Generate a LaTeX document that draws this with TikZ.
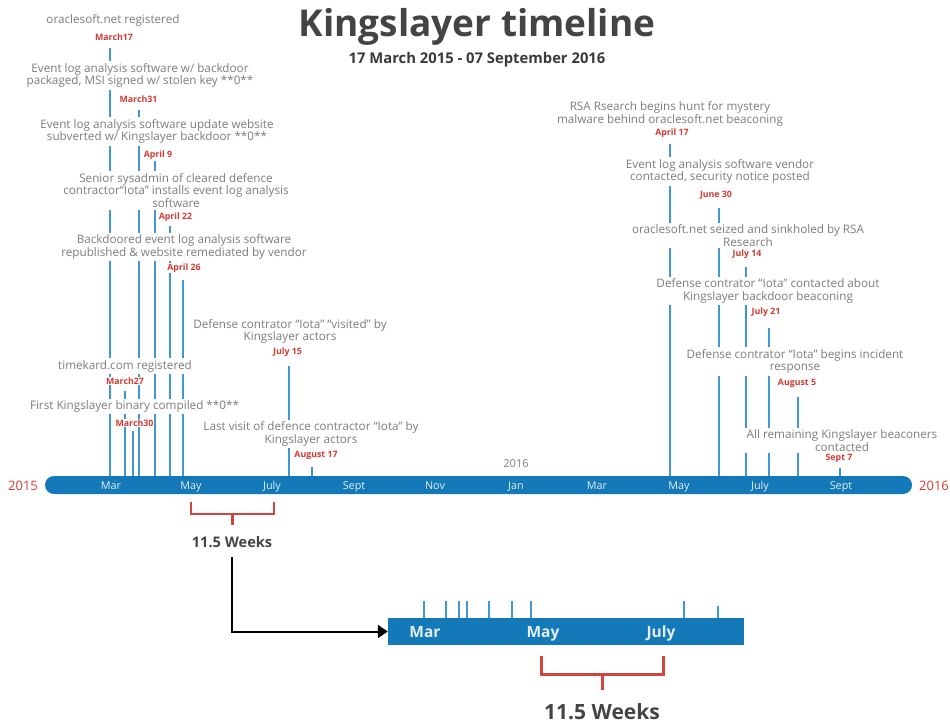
\documentclass[tikz,border=0pt]{standalone}
\usepackage{fontspec}
\setmainfont{Open Sans}
\usetikzlibrary{arrows.meta}
\definecolor{barblue}{HTML}{1479B8}
\definecolor{tickblue}{HTML}{4197D2}
\definecolor{datered}{HTML}{D43A32}
\definecolor{brred}{HTML}{CF463E}
\definecolor{evgray}{HTML}{7D7D7D}
\definecolor{titlegray}{HTML}{444444}
\definecolor{monwhite}{HTML}{E4EEF6}
\begin{document}
\begin{tikzpicture}[x=1pt,y=-1pt,
 evt/.style={font=\fontsize{11.7}{12.8}\selectfont, text=evgray, align=center, fill=white, inner sep=1.8pt},
 dt/.style={font=\bfseries\fontsize{8.8}{10}\selectfont, text=datered, fill=white, inner sep=0.6pt},
 tickline/.style={draw=tickblue, line width=1.1pt},
 mon/.style={font=\fontsize{10.8}{12}\selectfont, text=monwhite, anchor=base},
 zmon/.style={font=\bfseries\fontsize{15.5}{18}\selectfont, text=monwhite, anchor=base},
 yr/.style={font=\fontsize{13}{15}\selectfont, text=datered, anchor=base},
 brk/.style={draw=brred, line width=2.6pt},
 arrowline/.style={draw=black, line width=2pt, -{Triangle[length=10pt,width=13pt]}},
]
\useasboundingbox (0,0) rectangle (950,723);

% title
\node[font=\bfseries\fontsize{37}{40}\selectfont, text=titlegray] (title) at (477,27) {Kingslayer timeline};
\node[font=\bfseries\fontsize{14.8}{17}\selectfont, text=titlegray!85!black] (sub) at (477,60) {17 March 2015 - 07 September 2016};

% main bar
\node[fill=barblue, rounded corners=9pt, minimum width=867pt, minimum height=18pt, inner sep=0pt] (bar) at (478.5,485) {};

% event lines
\foreach \x/\y [count=\i] in {110/48, 139/110, 155/161, 170/226, 183/280, 125/391, 133/431, 289/366, 312/467,
  670/144, 719/208, 746/267, 769/328, 798/397, 840/468} {
  \coordinate (t\i) at (\x,\y);
  \draw[tickline] (t\i) -- (t\i |- bar.north);
}

% left events
\node[evt] (e1) at (113,20) {oraclesoft.net registered};
\node[dt] (d1) at (114,37) {March17};
\node[evt] (e2) at (140,75.5) {Event log analysis software w/ backdoor\\packaged, MSI signed w/ stolen key **0**};
\node[dt] (d2) at (138.5,99) {March31};
\node[evt] (e3) at (157,131.5) {Event log analysis software update website\\subverted w/ Kingslayer backdoor **0**};
\node[dt, anchor=west] (d3) at (143,155) {April 9};
\node[evt] (e4) at (176,190.5) {Senior sysadmin of cleared defence\\contractor“Iota” installs event log analysis\\software};
\node[dt] (d4) at (175.5,217) {April 22};
\node[evt] (e5) at (184,247) {Backdoored event log analysis software\\republished \& website remediated by vendor};
\node[dt] (d5) at (184,268) {April 26};
\node[evt] (e6) at (125,366) {timekard.com registered};
\node[dt] (d6) at (125,381) {March27};
\node[evt] (e7) at (134.5,406.5) {First Kingslayer binary compiled **0**};
\node[dt] (d7) at (134.5,423) {March30};
\node[evt] (e8) at (290,331.5) {Defense contrator “Iota” “visited” by\\Kingslayer actors};
\node[dt] (d8) at (287.5,352) {July 15};
\node[evt] (e9) at (311,434) {Last visit of defence contractor “Iota” by\\Kingslayer actors};
\node[dt] (d9) at (316,455) {August 17};

% right events
\node[evt] (e10) at (670,114) {RSA Rsearch begins hunt for mystery\\malware behind oraclesoft.net beaconing};
\node[dt] (d10) at (672,133) {April 17};
\node[evt] (e11) at (720,171.5) {Event log analysis software vendor\\contacted, security notice posted};
\node[dt] (d11) at (716,195) {June 30};
\node[evt] (e12) at (748,235.5) {oraclesoft.net seized and sinkholed by RSA\\Research};
\node[dt] (d12) at (747,254) {July 14};
\node[evt] (e13) at (768,291) {Defense contrator “Iota” contacted about\\Kingslayer backdoor beaconing};
\node[dt] (d13) at (766,312) {July 21};
\node[evt] (e14) at (795,361.5) {Defense contrator “Iota” begins incident\\response};
\node[dt] (d14) at (797,383) {August 5};
\node[evt] (e15) at (842,440.5) {All remaining Kingslayer beaconers\\contacted};
\node[dt] (d15) at (839,458) {Sept 7};

% bar labels
\foreach \x/\m [count=\i] in {111/Mar,191/May,272/July,354/Sept,435/Nov,516/Jan,597/Mar,679/May,760/July,841/Sept} {
  \node[mon] (m\i) at (\x,489.5) {\m};
}
\node[yr] (y15) at (23,490.5) {2015};
\node[yr] (y16) at (934,490.5) {2016};
\node[font=\fontsize{11}{12}\selectfont, text=evgray] (mid16) at (516,464) {2016};

% bracket main
\draw[brk] (191,502) -- (191,514) -- (274,514) -- (274,502);
\draw[brk] (232.5,514) -- (232.5,525);
\node[font=\bfseries\fontsize{14.6}{16}\selectfont, text=titlegray] (wk1) at (232,542) {11.5 Weeks};

% zoomed bar
\node[fill=barblue, minimum width=356pt, minimum height=27pt, inner sep=0pt] (zbar) at (566,631.5) {};
\foreach \x/\y [count=\i] in {424/601,446/601,459/601,467/601,489/601,512/601,531/601,684/601,718/606} {
  \coordinate (z\i) at (\x,\y);
  \draw[tickline] (z\i) -- (z\i |- zbar.north);
}
\node[zmon] (zm1) at (425,637.5) {Mar};
\node[zmon] (zm2) at (543,637.5) {May};
\node[zmon] (zm3) at (661,637.5) {July};

% arrow
\draw[arrowline, shorten <=6pt] (wk1) |- (zbar);

% bracket zoomed
\draw[brk, line width=3pt] (541,656) -- (541,674) -- (663,674) -- (663,656);
\draw[brk, line width=3pt] (602,674) -- (602,690);
\node[font=\bfseries\fontsize{21}{24}\selectfont, text=titlegray, anchor=base] (wk2) at (602,719.5) {11.5 Weeks};
\end{tikzpicture}
\end{document}
